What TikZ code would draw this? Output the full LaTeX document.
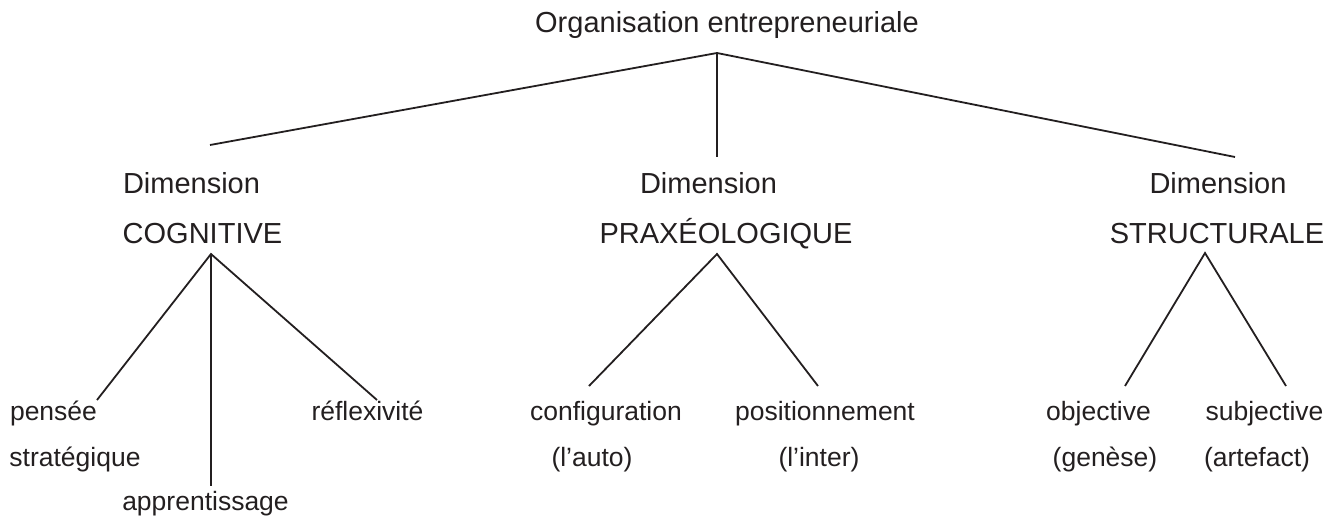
\documentclass[tikz,border=0pt]{standalone}
\usepackage{fontspec}
\setmainfont{Liberation Sans}
\usetikzlibrary{positioning}
\definecolor{orgInk}{RGB}{35,31,32}
\tikzset{
    base/.style={font=\fontsize{29}{35}\selectfont, text=orgInk, inner sep=0pt, anchor=base},
    leaf/.style={base, font=\fontsize{26.5}{32}\selectfont},
    branch/.style={draw=orgInk, line width=1.8pt}
}

\begin{document}
\begin{tikzpicture}[x=1pt, y=-1pt]
  \useasboundingbox (0,0) rectangle (1336,520);

  % top level
  \node[base] (org) at (727,32) {Organisation entrepreneuriale};
  \coordinate (orgOut) at (717,53);

  % dimensions
  \node[base] (cogDim) at (191.5,193) {Dimension};
  \node[base] (cog) at (202.5,243) {COGNITIVE};
  \node[base] (praDim) at (708.5,193) {Dimension};
  \node[base] (pra) at (726,243) {PRAXÉOLOGIQUE};
  \node[base] (strDim) at (1218,193) {Dimension};
  \node[base] (str) at (1217,243) {STRUCTURALE};
  \coordinate (cogIn) at (210,145);
  \coordinate (praIn) at (717,157);
  \coordinate (strIn) at (1235,157);
  \coordinate (cogOut) at (211,254);
  \coordinate (praOut) at (717,254);
  \coordinate (strOut) at (1205,253);

  % leaves
  \node[leaf] (pen) at (53.5,420) {pensée};
  \node[leaf] (penB) at (75,466) {stratégique};
  \node[leaf] (app) at (205.5,510) {apprentissage};
  \node[leaf] (ref) at (367.5,420) {réflexivité};
  \node[leaf] (conf) at (606,420) {configuration};
  \node[leaf] (confB) at (592,466) {(l’auto)};
  \node[leaf] (pos) at (825,420) {positionnement};
  \node[leaf] (posB) at (819,466) {(l’inter)};
  \node[leaf] (obj) at (1098.5,420) {objective};
  \node[leaf] (objB) at (1105,466) {(genèse)};
  \node[leaf] (sub) at (1264.5,420) {subjective};
  \node[leaf] (subB) at (1257,466) {(artefact)};
  \coordinate (penIn) at (97,400);
  \coordinate (appIn) at (211,486);
  \coordinate (refIn) at (377,400);
  \coordinate (confIn) at (589,386);
  \coordinate (posIn) at (818,386);
  \coordinate (objIn) at (1125,386);
  \coordinate (subIn) at (1286,386);

  % branches
  \draw[branch] (cogIn) -- (orgOut) -- (strIn);
  \draw[branch] (orgOut) -- (praIn);
  \draw[branch] (penIn) -- (cogOut) -- (refIn);
  \draw[branch] (cogOut) -- (appIn);
  \draw[branch] (confIn) -- (praOut) -- (posIn);
  \draw[branch] (objIn) -- (strOut) -- (subIn);
\end{tikzpicture}
\end{document}
